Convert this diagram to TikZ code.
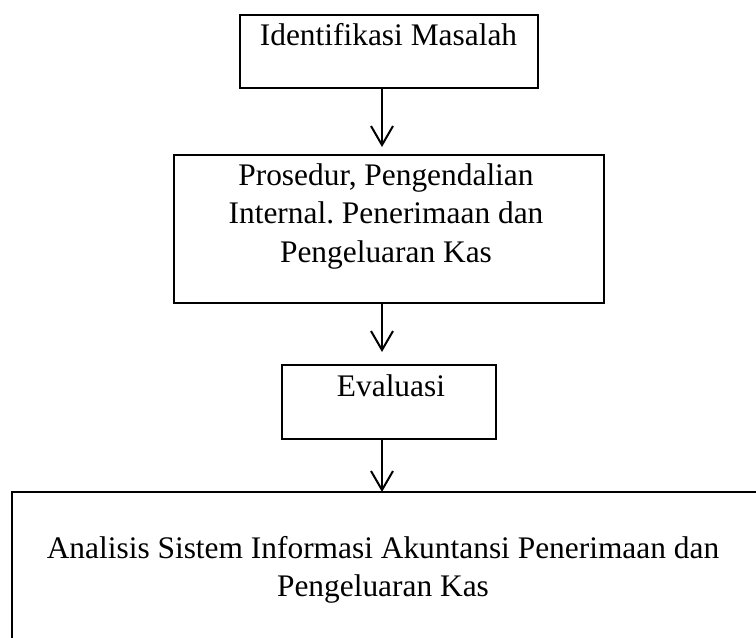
\documentclass[tikz,border=0pt]{standalone}
\usepackage{fontspec}
\setmainfont{Liberation Serif}
\usetikzlibrary{arrows.meta}
\frenchspacing
\tikzset{
  box/.style={draw, line width=2.5pt, outer sep=0pt, inner sep=0pt, rectangle},
  txt/.style={inner sep=0pt, outer sep=0pt, align=center, font=\fontsize{31.4}{38.5}\selectfont},
  arr/.style={line width=2pt, -{Straight Barb[length=19pt, width=22pt, line width=2pt]}}
}
\begin{document}
\begin{tikzpicture}[x=1pt, y=-1pt]
\useasboundingbox (0,0) rectangle (756,638);
\clip (0,0) rectangle (756,638);
\node[box, minimum width=298pt, minimum height=73pt] (b1) at (389,51.5) {};
\node[box, minimum width=430pt, minimum height=148pt] (b2) at (389,229) {};
\node[box, minimum width=214pt, minimum height=74pt] (b3) at (389,402) {};
\node[box, minimum width=758pt, minimum height=168pt] (b4) at (391,576) {};
\node[txt, anchor=base] (t1) at (388.5,45) {Identifikasi Masalah};
\node[txt, anchor=base] (t2) at (386,185) {\begin{tabular}[t]{@{}c@{}}Prosedur, Pengendalian\\Internal. Penerimaan dan\\Pengeluaran Kas\end{tabular}};
\node[txt, anchor=base] (t3) at (391,396) {Evaluasi};
\node[txt, anchor=base] (t4) at (383,558) {\begin{tabular}[t]{@{}c@{}}Analisis Sistem Informasi Akuntansi Penerimaan dan\\Pengeluaran Kas\end{tabular}};
\draw[arr, shorten >=8pt] ([xshift=-7pt]b1.south) -- ([xshift=-7pt]b2.north);
\draw[arr, shorten >=13pt] ([xshift=-7pt]b2.south) -- ([xshift=-7pt]b3.north);
\draw[arr] ([xshift=-7pt]b3.south) -- ([xshift=-9pt]b4.north);
\end{tikzpicture}
\end{document}
